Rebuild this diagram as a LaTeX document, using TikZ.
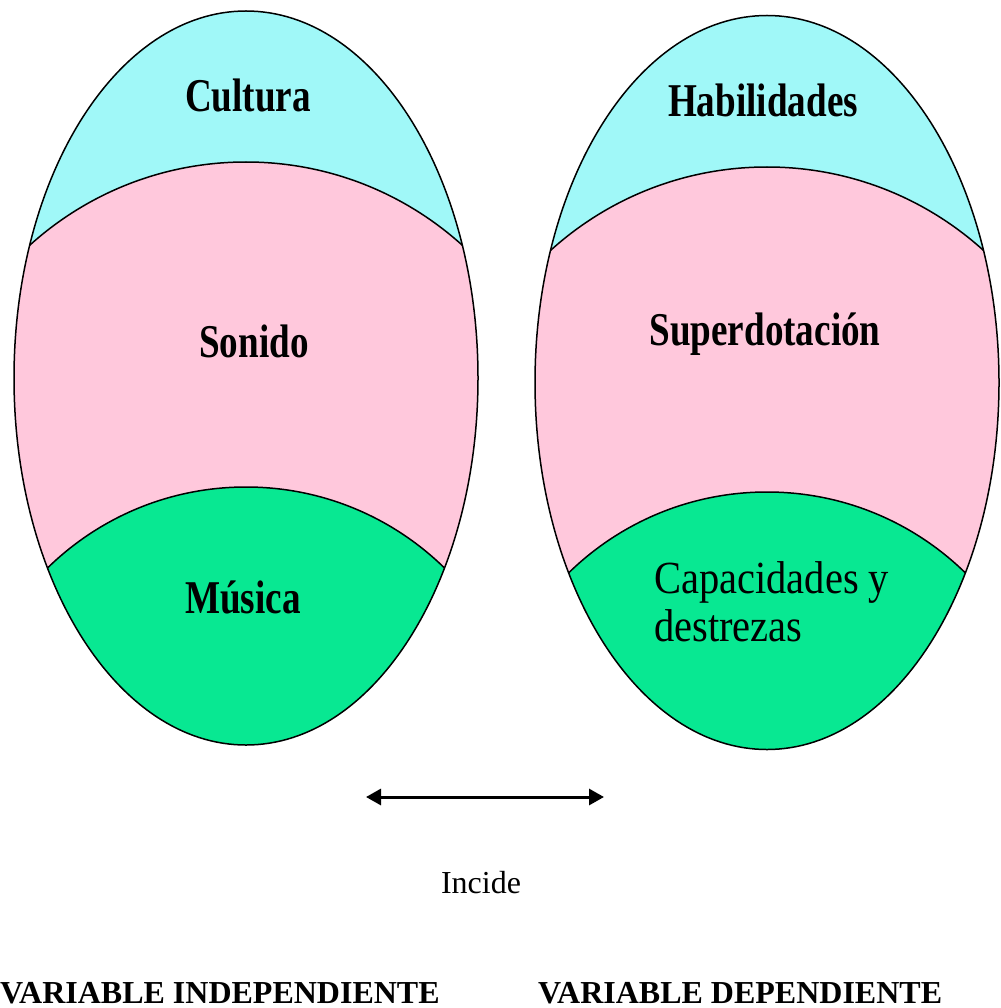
\documentclass[tikz,border=0pt]{standalone}
\usepackage{fontspec}
\setmainfont{Liberation Serif}
\newfontfamily\condfont[FakeStretch=0.79]{Liberation Serif}
\newfontfamily\condreg[FakeStretch=0.88]{Liberation Serif}
\usetikzlibrary{arrows.meta}
\definecolor{topcyan}{RGB}{160,248,248}
\definecolor{midpink}{RGB}{255,200,220}
\definecolor{botgreen}{RGB}{8,232,146}
\begin{document}
\begin{tikzpicture}[x=1pt,y=-1pt,
  outline/.style={draw=black,line width=1.5pt},
  lbl/.style={font=\condfont\bfseries\fontsize{47}{52}\selectfont, anchor=base, inner sep=0pt},
  lblreg/.style={font=\condreg\fontsize{46}{50}\selectfont, anchor=base west, inner sep=0pt},
  smalllbl/.style={font=\fontsize{32}{36}\selectfont, anchor=base, inner sep=0pt},
  bottomlbl/.style={font=\bfseries\fontsize{32}{35}\selectfont, anchor=base west, inner sep=0pt},
  conn/.style={line width=3pt, {Triangle[length=15pt,width=16pt]}-{Triangle[length=15pt,width=16pt]}}]
\useasboundingbox (0,0) rectangle (1000,1008);
% left ellipse
\begin{scope}
  \clip (246,378) ellipse [x radius=232, y radius=367];
  \fill[topcyan] (0,0) rectangle (500,800);
  \fill[midpink] (246,484.6) circle [radius=322.6];
  \fill[botgreen] (246,770.7) circle [radius=283.7];
  \draw[outline] (246,484.6) circle [radius=322.6];
  \draw[outline] (246,770.7) circle [radius=283.7];
\end{scope}
\draw[outline] (246,378) ellipse [x radius=232, y radius=367];
% right ellipse
\begin{scope}
  \clip (767,382.5) ellipse [x radius=232, y radius=367];
  \fill[topcyan] (500,0) rectangle (1000,800);
  \fill[midpink] (767,489.6) circle [radius=322.6];
  \fill[botgreen] (767,775.7) circle [radius=283.7];
  \draw[outline] (767,489.6) circle [radius=322.6];
  \draw[outline] (767,775.7) circle [radius=283.7];
\end{scope}
\draw[outline] (767,382.5) ellipse [x radius=232, y radius=367];
% labels
\node[lbl] (cultura) at (248,112) {Cultura};
\node[lbl] (sonido) at (254,357) {Sonido};
\node[lbl] (musica) at (243,613) {Música};
\node[lbl] (habil) at (763,117) {Habilidades};
\node[lbl] (superd) at (765,345) {Superdotación};
\node[lblreg] (capac) at (654,593) {Capacidades y};
\node[lblreg] (destr) at (654,641) {destrezas};
% arrow
\coordinate (aL) at (366,797);
\coordinate (aR) at (604,797);
\draw[conn] (aL) -- (aR);
\node[smalllbl] (incide) at (481,893) {Incide};
\node[bottomlbl] (vi) at (0,1003) {VARIABLE INDEPENDIENTE};
\node[bottomlbl] (vd) at (538,1003) {VARIABLE DEPENDIENTE};
\end{tikzpicture}
\end{document}
